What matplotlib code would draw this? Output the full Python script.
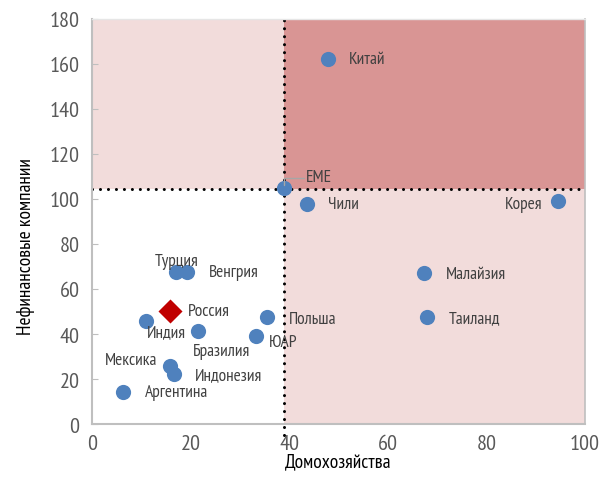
import matplotlib
matplotlib.use("Agg")
import matplotlib.pyplot as plt

plt.rcParams["font.family"] = ["PT Sans Narrow", "DejaVu Sans"]

countries = ["Китай", "EME", "Чили", "Корея", "Турция", "Венгрия", "Малайзия",
             "Индия", "Бразилия", "Польша", "ЮАР", "Таиланд", "Мексика",
             "Индонезия", "Аргентина"]
households = [47.9, 38.9, 43.6, 94.5, 17.0, 19.3, 67.3,
              11.0, 21.5, 35.5, 33.3, 68.0, 15.8, 16.6, 6.3]
corporates = [162.2, 104.9, 97.8, 99.1, 67.6, 67.6, 67.1,
              45.8, 41.3, 47.6, 39.1, 47.6, 25.8, 22.2, 14.2]

russia_x, russia_y = 15.8, 50.2

x_split, y_split = 38.9, 104.5

# label offsets in pixels (dx, dy, ha)
offsets = {
    "Китай": (21, 0, "left"), "EME": (22, 11, "left"), "Чили": (21, 0, "left"),
    "Корея": (-15, -3, "right"), "Турция": (1, 11, "center"),
    "Венгрия": (22, 0, "left"), "Малайзия": (22, -1, "left"),
    "Индия": (20, -11, "center"), "Бразилия": (-5, -20, "left"),
    "Польша": (22, -2, "left"), "ЮАР": (13, -6, "left"),
    "Таиланд": (22, -1, "left"), "Мексика": (-13, 6, "right"),
    "Индонезия": (21, -1, "left"), "Аргентина": (22, 0, "left"),
}

fig = plt.figure(figsize=(6.04, 4.85), dpi=100)
ax = fig.add_axes([0.1523, 0.1237, 0.8162, 0.8351])
ax.set_xlim(0, 100)
ax.set_ylim(0, 180)

light, dark = "#f2dcdb", "#d99594"
ax.fill_between([0, x_split], y_split, 180, color=light, lw=0, zorder=0)
ax.fill_between([x_split, 100], y_split, 180, color=dark, lw=0, zorder=0)
ax.fill_between([x_split, 100], 0, y_split, color=light, lw=0, zorder=0)

dots = dict(color="black", lw=2.2, ls=(0, (0.01, 2.6)), dash_capstyle="round", zorder=2)
ax.plot([x_split, x_split], [-5, 180], clip_on=False, **dots)
ax.plot([0, 100], [y_split, y_split], **dots)

ax.scatter(households, corporates, s=120, color="#4f81bd", lw=0, zorder=3)
ax.scatter([russia_x], [russia_y], s=150, marker="D", color="#c00000", lw=0, zorder=3)

px = 72 / fig.dpi
for name, x, y in zip(countries, households, corporates):
    dx, dy, ha = offsets[name]
    ax.annotate(name, (x, y), xytext=(dx * px, dy * px), textcoords="offset points",
                ha=ha, va="center", fontsize=12.5, color="#404040", zorder=4)
ax.annotate("Россия", (russia_x, russia_y), xytext=(18 * px, 0), textcoords="offset points",
            ha="left", va="center", fontsize=12.5, color="#404040", zorder=4)

# leader line for the EME label
ex, ey = households[1], corporates[1]
ax.annotate("", (ex, ey), xytext=(20 * px, 10 * px), textcoords="offset points",
            arrowprops=dict(arrowstyle="-", color="#a6a6a6", lw=1,
                            connectionstyle="angle,angleA=0,angleB=90,rad=0",
                            shrinkA=0, shrinkB=2), zorder=4)

ax.set_xticks(range(0, 101, 20))
ax.set_yticks(range(0, 181, 20))
ax.tick_params(axis="both", labelsize=16, labelcolor="#595959", color="#bfbfbf")
ax.tick_params(axis="y", direction="in", length=4, pad=9)
ax.tick_params(axis="x", length=0, pad=7)

for side in ["left", "bottom"]:
    ax.spines[side].set_color("#bfbfbf")
    ax.spines[side].set_linewidth(1.5)
ax.spines["right"].set_color("#bfbfbf")
ax.spines["right"].set_linewidth(1.2)
ax.spines["top"].set_color("#e6e6e6")
ax.spines["top"].set_linewidth(1)

ax.set_xlabel("Домохозяйства", fontsize=14, color="black", labelpad=0)
ax.set_ylabel("Нефинансовые компании", fontsize=14, color="black")
ax.yaxis.set_label_coords(-0.115, 0.44)

fig.savefig("out.png", dpi=100)
